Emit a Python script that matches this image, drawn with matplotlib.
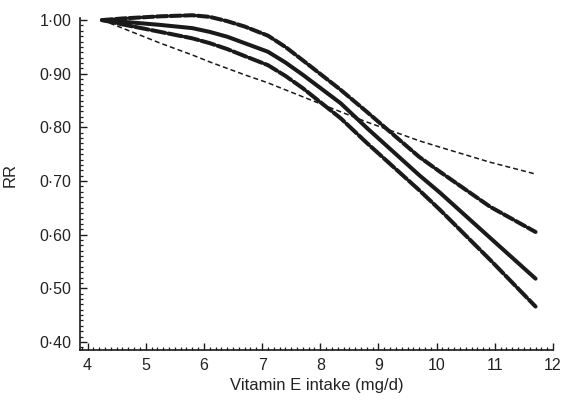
import numpy as np
import matplotlib
matplotlib.use("Agg")
import matplotlib.pyplot as plt
from matplotlib.ticker import MultipleLocator, FixedLocator, FixedFormatter

plt.rcParams['font.family'] = ['Liberation Sans', 'DejaVu Sans']

# vitamin E intake (mg/d) where the curves were read
intake = [4.25, 4.6, 5.25, 5.8, 6.1, 6.4, 6.7, 7.1, 7.4, 7.7, 8.35, 8.8,
          9.7, 10.06, 10.92, 11.7]

# relative risk, spline model with its confidence limits
rr_upper = [1.000, 1.003, 1.007, 1.009, 1.006, 0.998, 0.988, 0.971, 0.950,
            0.925, 0.870, 0.829, 0.745, 0.717, 0.652, 0.605]
rr_spline = [1.000, 0.997, 0.991, 0.985, 0.978, 0.969, 0.957, 0.941, 0.921,
             0.898, 0.845, 0.799, 0.711, 0.678, 0.594, 0.518]
rr_lower = [1.000, 0.992, 0.978, 0.966, 0.957, 0.946, 0.933, 0.916, 0.896,
            0.873, 0.817, 0.771, 0.683, 0.646, 0.553, 0.466]
# linear trend model
rr_linear = [1.000, 0.985, 0.957, 0.935, 0.922, 0.910, 0.898, 0.883, 0.870,
             0.857, 0.829, 0.810, 0.775, 0.763, 0.735, 0.713]

yticks = [0.40, 0.50, 0.60, 0.70, 0.80, 0.90, 1.00]
ylabels = ["0·40", "0·50", "0·60", "0·70", "0·80", "0·90", "1·00"]
xticks = [4, 5, 6, 7, 8, 9, 10, 11, 12]

fig = plt.figure(figsize=(5.62, 4.03), dpi=100)
ax = fig.add_axes([0.1423, 0.1315, 0.8417, 0.824])

col = "#1a1a1a"
ax.plot(intake, rr_upper, color=col, lw=2.9, dashes=(2.6, 0.8),
        dash_capstyle="round", clip_on=False)
ax.plot(intake, rr_spline, color=col, lw=2.9, solid_capstyle="round",
        clip_on=False)
ax.plot(intake, rr_lower, color=col, lw=2.9, dashes=(3.4, 0.8),
        dash_capstyle="round", clip_on=False)
ax.plot(intake, rr_linear, color=col, lw=1.1, dashes=(3.3, 2.0),
        clip_on=False)

ax.set_xlim(3.87, 12)
ax.set_ylim(0.385, 1.004)

ax.xaxis.set_major_locator(FixedLocator(xticks))
ax.xaxis.set_minor_locator(MultipleLocator(0.1))
ax.yaxis.set_major_locator(FixedLocator(yticks))
ax.yaxis.set_major_formatter(FixedFormatter(ylabels))
ax.yaxis.set_minor_locator(MultipleLocator(0.01))

ax.tick_params(which="both", direction="in", colors=col, labelsize=11.5,
               labelcolor="#222222")
ax.tick_params(which="major", length=5, width=1.0, pad=6)
ax.tick_params(which="minor", length=2.5, width=0.9)

for side in ["top", "right"]:
    ax.spines[side].set_visible(False)
for side in ["left", "bottom"]:
    ax.spines[side].set_linewidth(1.2)
    ax.spines[side].set_color(col)

ax.set_xlabel("Vitamin E intake (mg/d)", fontsize=12, color="#222222")
ax.xaxis.set_label_coords(0.5, -0.085)
ax.set_ylabel("RR", fontsize=12, color="#222222")
ax.yaxis.set_label_coords(-0.131, 0.527)

fig.savefig("out.png", dpi=100, facecolor="white")
